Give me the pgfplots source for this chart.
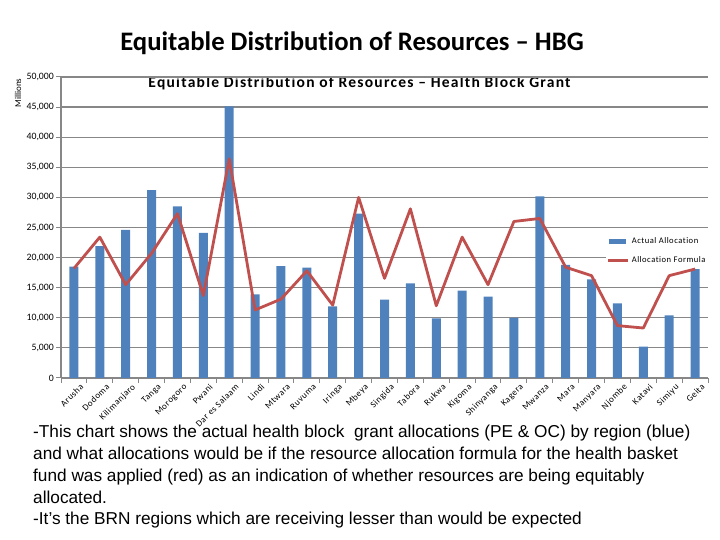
\documentclass[border=0pt]{standalone}
\usepackage{pgfplots}
\pgfplotsset{compat=1.18}
\usepackage{fontspec}
\setmainfont{Carlito}[Ligatures=NoCommon]
\newfontfamily\widefont{Carlito}[Ligatures=NoCommon, LetterSpace=6]
\newfontfamily\titlefont{Carlito}[Ligatures=NoCommon, LetterSpace=8]
\newfontfamily\arialfont{Liberation Sans}
\definecolor{barblue}{HTML}{4F81BD}
\definecolor{linered}{HTML}{C0504D}
\definecolor{gridgray}{HTML}{878787}

\begin{document}
\begin{tikzpicture}[x=1bp,y=1bp]
\useasboundingbox (0,0) rectangle (720,540);

% headings
\node[anchor=base, font=\fontsize{26.8}{30}\selectfont\bfseries] at (352,489)
  {Equitable Distribution of Resources – HBG};
\node[anchor=base, font=\titlefont\fontsize{15.6}{19}\selectfont\bfseries] at (359.5,452.7)
  {Equitable Distribution of Resources – Health Block Grant};
\node[rotate=90, font=\fontsize{9}{10}\selectfont] at (18,447) {Millions};

\begin{axis}[
    at={(61bp,162bp)}, anchor=south west,
    scale only axis, width=647bp, height=301bp,
    xmin=-0.5, xmax=24.5, ymin=0, ymax=50000,
    axis x line*=bottom, axis y line*=left,
    axis line style={gridgray, line width=1.2bp, -},
    xtick={-0.5,0.5,...,24.5},
    x tick label as interval,
    xticklabels={Arusha, Dodoma, Kilimanjaro, Tanga, Morogoro, Pwani, Dar es Salaam,
      Lindi, Mtwara, Ruvuma, Iringa, Mbeya, Singida, Tabora, Rukwa, Kigoma,
      Shinyanga, Kagera, Mwanza, Mara, Manyara, Njombe, Katavi, Simiyu, Geita},
    ytick={0,5000,...,50000},
    scaled y ticks=false,
    /pgf/number format/1000 sep={,},
    /pgf/number format/assume math mode=true,
    tick align=outside, major tick length=5bp,
    tick style={gridgray, line width=1bp},
    ymajorgrids, grid style={gridgray, line width=1.2bp},
    yticklabel style={font=\fontsize{9.8}{11}\selectfont, inner sep=2bp},
    xticklabel style={rotate=45, anchor=north east, xshift=5bp, yshift=-3bp,
      font=\widefont\fontsize{9}{10}\selectfont, inner sep=1bp},
    legend style={at={(0.842,0.422)}, anchor=west, draw=none, fill=white,
      font=\widefont\fontsize{8.6}{9}\selectfont, row sep=7bp, inner sep=1bp},
    legend cell align=left,
]
\addplot[ybar, bar width=9bp, fill=barblue, draw=none,
  legend image code/.code={\fill[barblue] (0bp,-2.5bp) rectangle (17bp,2.5bp);}]
  coordinates {
  (0,18500) (1,21900) (2,24600) (3,31200) (4,28500) (5,24100) (6,45100)
  (7,13900) (8,18600) (9,18350) (10,11900) (11,27300) (12,13000) (13,15700)
  (14,9900) (15,14500) (16,13500) (17,10000) (18,30150) (19,18800) (20,16400)
  (21,12400) (22,5200) (23,10400) (24,18100)};
\addlegendentry{Actual Allocation}
\addplot[linered, line width=2.8bp, line join=round, mark=none,
  legend image code/.code={\draw[linered, line width=2.8bp] (-1bp,0bp) -- (19bp,0bp);}]
  coordinates {
  (0,18200) (1,23400) (2,15500) (3,20700) (4,27300) (5,13700) (6,36400)
  (7,11300) (8,13100) (9,17800) (10,12100) (11,30000) (12,16550) (13,28100)
  (14,12000) (15,23400) (16,15500) (17,26000) (18,26500) (19,18400) (20,17000)
  (21,8700) (22,8300) (23,17000) (24,18100)};
\addlegendentry{Allocation Formula}
\end{axis}

% note below the chart
\begin{scope}[every node/.style={anchor=base west, inner sep=0pt,
    font=\arialfont\fontsize{17.3}{21.75}\selectfont}]
\node at (33,102) {-This chart shows the actual health block\ \ grant allocations (PE \& OC) by region (blue)};
\node at (33,80.25) {and what allocations would be if the resource allocation formula for the health basket};
\node at (33,58.5) {fund was applied (red) as an indication of whether resources are being equitably};
\node at (33,36.75) {allocated.};
\node at (33,15) {-It’s the BRN regions which are receiving lesser than would be expected};
\end{scope}
\end{tikzpicture}
\end{document}
